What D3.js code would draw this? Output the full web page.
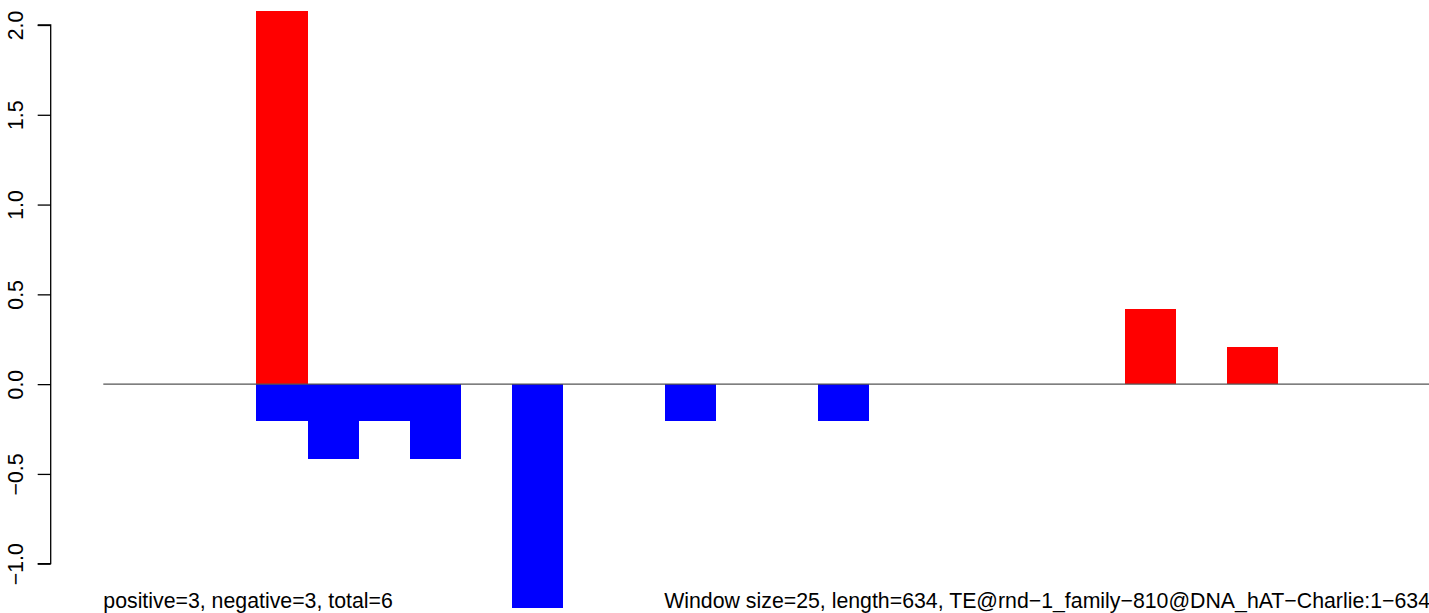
<!DOCTYPE html>
<html>
<head>
<meta charset="utf-8">
<script src="https://cdn.jsdelivr.net/npm/d3@7"></script>
<style>
  html, body { margin: 0; padding: 0; background: #fff; }
  svg { display: block; font-family: "Liberation Sans", Arial, Helvetica, sans-serif; }
</style>
</head>
<body>
<svg id="chart" width="1429" height="613"></svg>
<script>
// ---- data ----
const windowCount = 26;
const posWindows = [3, 20, 22];
const posValues  = [2.078, 0.416, 0.208];
const negWindows = [3, 4, 5, 6, 8, 11, 14];
const negValues  = [-0.208, -0.416, -0.208, -0.416, -1.247, -0.208, -0.208];
const yTicks = [-1.0, -0.5, 0.0, 0.5, 1.0, 1.5, 2.0];
const leftNote  = "positive=3, negative=3, total=6";
const rightNote = "Window size=25, length=634, TE@rnd\u22121_family\u2212810@DNA_hAT\u2212Charlie:1\u2212634";

// ---- layout ----
const W = 1429, H = 613;
const svg = d3.select("#chart");

const x = d3.scaleLinear().domain([0, windowCount]).range([103.3, 1430.9]);
const y = d3.scaleLinear().domain([-1, 2]).range([563.7, 25]);

const posData = posWindows.map((w, i) => ({ w, v: posValues[i] }));
const negData = negWindows.map((w, i) => ({ w, v: negValues[i] }));

// bars
svg.append("g").selectAll("rect").data(posData).join("rect")
  .attr("x", d => x(d.w))
  .attr("width", d => x(d.w + 1) - x(d.w))
  .attr("y", d => y(d.v))
  .attr("height", d => y(0) - y(d.v))
  .attr("fill", "#ff0000")
  .attr("shape-rendering", "crispEdges");

svg.append("g").selectAll("rect").data(negData).join("rect")
  .attr("x", d => x(d.w))
  .attr("width", d => x(d.w + 1) - x(d.w))
  .attr("y", y(0))
  .attr("height", d => y(d.v) - y(0))
  .attr("fill", "#0000ff")
  .attr("shape-rendering", "crispEdges");

// zero line
svg.append("line")
  .attr("x1", x(0)).attr("x2", W)
  .attr("y1", y(0)).attr("y2", y(0))
  .attr("stroke", "#555555").attr("stroke-width", 1.2);

// y axis
const axis = d3.axisLeft(y)
  .tickValues(yTicks)
  .tickSize(13)
  .tickPadding(0)
  .tickFormat(d => d3.format(".1f")(d).replace("-", "\u2212"));

const gAxis = svg.append("g")
  .attr("transform", "translate(50.7,0)")
  .call(axis);
gAxis.select(".domain")
  .attr("d", `M-13,${y(2)}H0V${y(-1)}H-13`)
  .attr("stroke", "#000").attr("stroke-width", 1.3).attr("fill", "none");
gAxis.selectAll(".tick line").attr("stroke", "#000").attr("stroke-width", 1.3);
gAxis.selectAll(".tick text")
  .attr("x", 0).attr("y", 0).attr("dy", null)
  .attr("transform", "translate(-28,0) rotate(-90)")
  .attr("text-anchor", "middle")
  .attr("fill", "#000")
  .style("font-size", "21.3px")
  .style("font-family", '"Liberation Sans", Arial, sans-serif');

// footnotes
svg.append("text")
  .attr("x", 103.3).attr("y", 608)
  .attr("font-size", 21.3).attr("fill", "#000")
  .text(leftNote);

svg.append("text")
  .attr("x", 1430).attr("y", 608)
  .attr("text-anchor", "end")
  .attr("font-size", 21.3).attr("fill", "#000")
  .text(rightNote);
</script>
</body>
</html>
